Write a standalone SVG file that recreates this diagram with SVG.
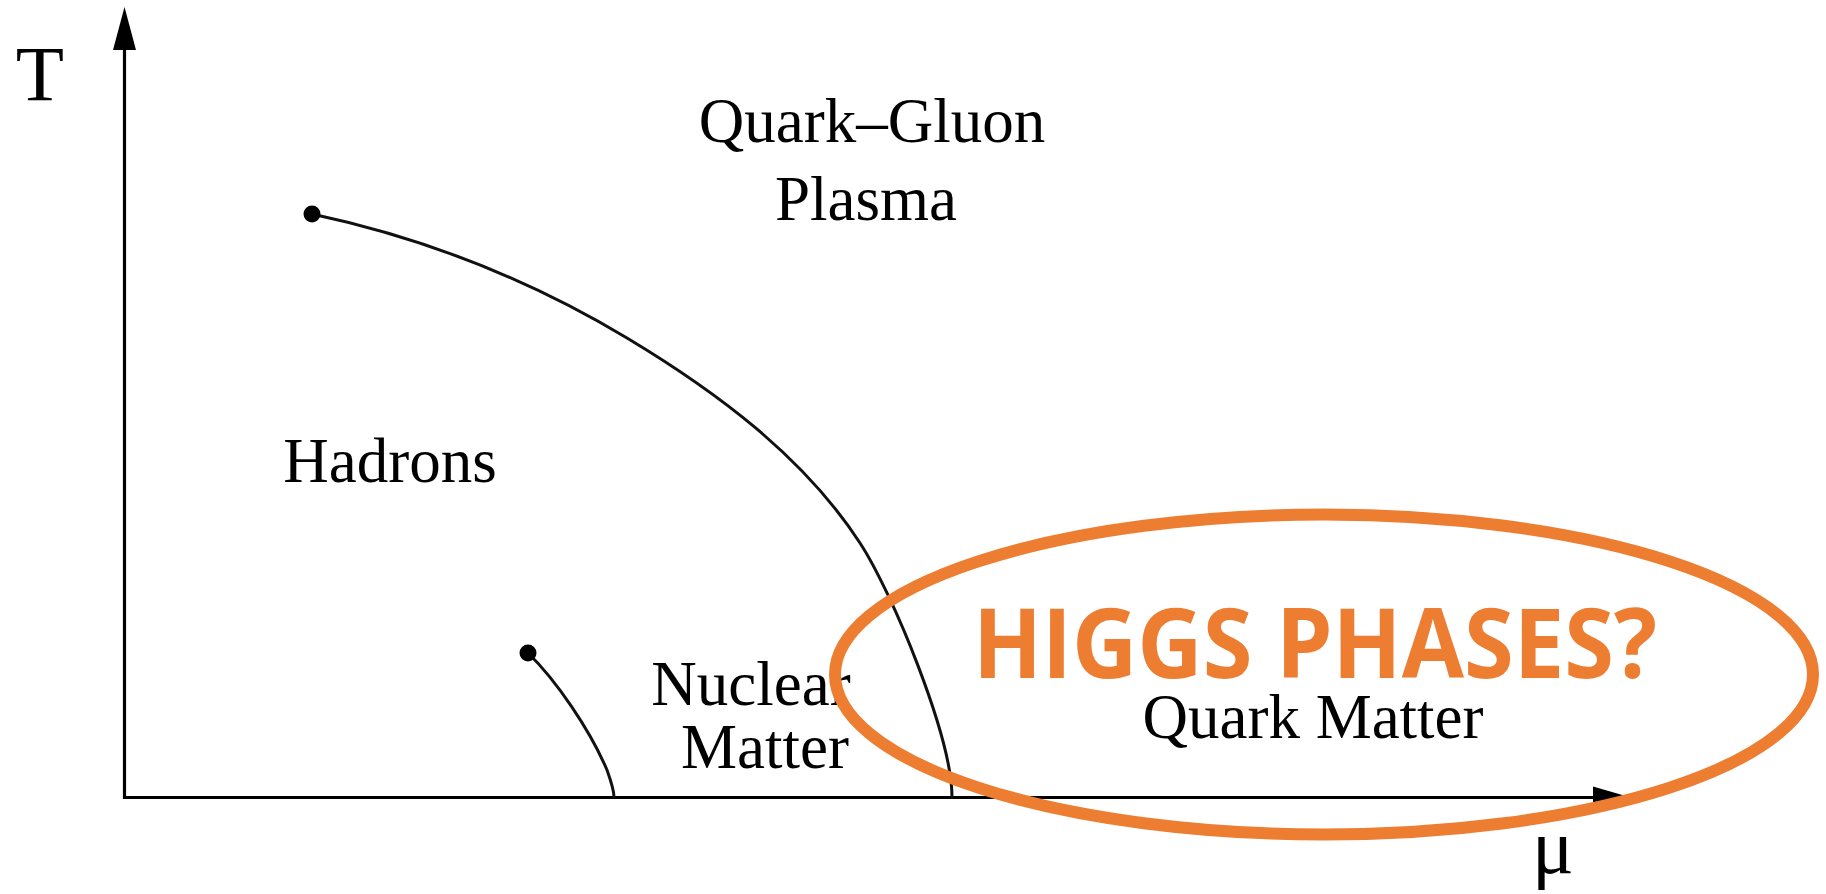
<svg xmlns="http://www.w3.org/2000/svg" width="1826" height="894" viewBox="0 0 1826 894">
<style>
.axis{stroke:#000;stroke-width:3.2;fill:none}
.curve{stroke:#111;stroke-width:3;fill:none;stroke-linecap:round}
.lbl{font-family:"Liberation Serif","Times New Roman",serif;fill:#000;text-anchor:middle}
.hig{font-family:"Open Sans","Liberation Sans",sans-serif;font-weight:bold;fill:#ED7D31;text-anchor:middle}
</style>
<rect width="1826" height="894" fill="#fff"/>
<g id="connectors">
<line class="axis" x1="124.5" y1="799" x2="124.5" y2="45"/>
<polygon points="124.5,7 113,50 136,50" fill="#000"/>
<line class="axis" x1="123" y1="797.5" x2="1595" y2="797.5"/>
<polygon points="1631,797.5 1593,786.5 1593,808.5" fill="#000"/>
<path class="curve" d="M312,214 C422.3,237.5 530.3,279.9 627,338 C715.7,391.3 803.6,456.2 860,543 C892.7,593.3 952,737 952,797"/>
<circle cx="312" cy="214" r="8.5" fill="#000"/>
<path class="curve" d="M528,653 C556,680 590,730 607,770 C612,784 614,790 614,797"/>
<circle cx="528" cy="653" r="8.5" fill="#000"/>
</g>
<g id="labels">
<text class="lbl" x="40" y="100" font-size="79">T</text>
<text class="lbl" x="1553" y="873" font-size="78">μ</text>
<text class="lbl" x="872" y="142" font-size="63">Quark–Gluon</text>
<text class="lbl" x="866" y="220" font-size="63">Plasma</text>
<text class="lbl" x="390" y="482" font-size="63">Hadrons</text>
<text class="lbl" x="751" y="705" font-size="63">Nuclear</text>
<text class="lbl" x="765" y="768" font-size="63">Matter</text>
<text class="lbl" x="1313" y="738" font-size="63">Quark Matter</text>
</g>
<g id="higgs">
<ellipse cx="1324" cy="674.5" rx="489" ry="160" fill="none" stroke="#ED7D31" stroke-width="12"/>
<text class="hig" x="1315" y="678" font-size="96" textLength="684" lengthAdjust="spacingAndGlyphs">HIGGS PHASES?</text>
</g>
</svg>
